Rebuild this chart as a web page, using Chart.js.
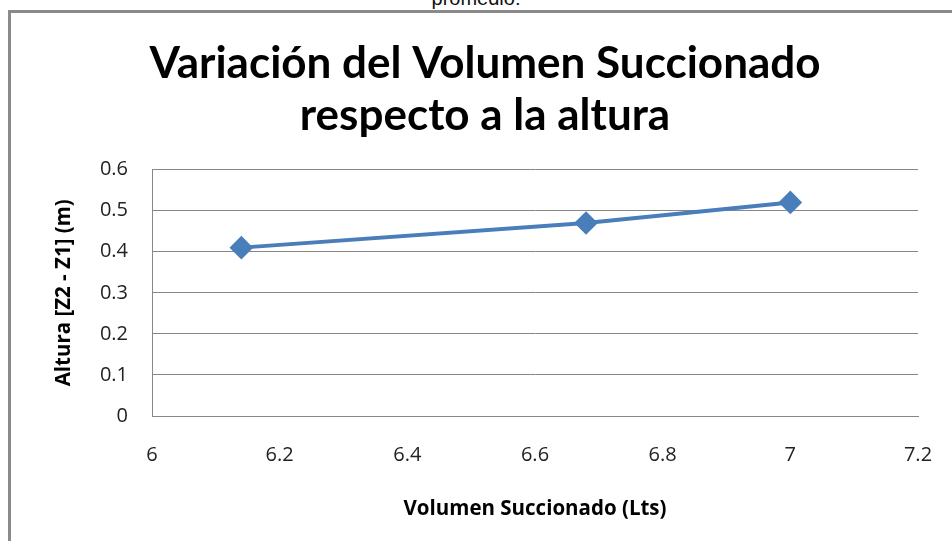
<!DOCTYPE html>
<html>
<head>
<meta charset="utf-8">
<script src="https://cdn.jsdelivr.net/npm/chart.js@4"></script>
<style>
  html, body { margin: 0; padding: 0; background: #fff; }
  body { width: 952px; height: 541px; position: relative; overflow: hidden; }
  #encima {
    position: absolute; left: 0; width: 952px; top: -13px;
    text-align: center; font: 20px "Liberation Sans", Arial, sans-serif; color: #111;
  }
  #marco {
    position: absolute; left: 8px; top: 10px; width: 1000px; height: 600px;
    border-left: 3px solid #8a8a8a; border-top: 3px solid #8a8a8a;
  }
  #grafico { position: absolute; left: 0; top: 0; }
</style>
</head>
<body>
<div id="encima">promedio:</div>
<div id="marco"></div>
<canvas id="grafico" width="952" height="541"></canvas>

<script>
// datos: volumen succionado (Lts) vs altura Z2 - Z1 (m)
const volumen = [6.14, 6.68, 7.0];
const altura = [0.41, 0.47, 0.52];

const titulo = ["Variación del Volumen Succionado", "respecto a la altura"];
const tituloX = "Volumen Succionado (Lts)";
const tituloY = "Altura [Z2 - Z1] (m)";

const azul = "#4a7ebb";
const gris = "#878787";

const puntos = volumen.map((v, i) => ({ x: v, y: altura[i] }));

const fuenteEje = { family: "Open Sans", size: 20.5, weight: "bold" };
const fuenteTicks = { family: "Open Sans", size: 20 };

new Chart(document.getElementById("grafico"), {
  type: "line",
  data: {
    datasets: [{
      data: puntos,
      borderColor: azul,
      backgroundColor: azul,
      borderWidth: 4,
      pointStyle: "rectRot",
      pointRadius: 9,
      pointHoverRadius: 9,
      tension: 0
    }]
  },
  options: {
    responsive: false,
    animation: false,
    layout: { padding: { left: 52, right: 34, top: 0, bottom: 0 } },
    plugins: {
      legend: { display: false },
      tooltip: { enabled: false },
      title: {
        display: true,
        text: titulo,
        color: "#000",
        font: { family: "Lato", size: 44, weight: "bold", lineHeight: 1.2 },
        padding: { top: 37, bottom: 27 }
      }
    },
    scales: {
      x: {
        type: "linear",
        min: 6,
        max: 7.2,
        // alto fijo y sin margen extra por la última etiqueta
        afterFit: s => { s.height = 125; s.paddingLeft = 0; s.paddingRight = 0; },
        ticks: {
          stepSize: 0.2,
          padding: 27,
          color: "#222",
          font: fuenteTicks,
          callback: v => String(Number(v.toFixed(1)))
        },
        grid: { drawOnChartArea: false, drawTicks: false },
        border: { display: true, color: gris, width: 1 },
        title: {
          display: true,
          text: tituloX,
          color: "#000",
          font: fuenteEje,
          padding: { top: 0, bottom: 20 }
        }
      },
      y: {
        min: 0,
        max: 0.6,
        afterFit: s => { s.width = 100; },
        ticks: {
          stepSize: 0.1,
          padding: 24,
          color: "#222",
          font: fuenteTicks,
          callback: v => String(Number(v.toFixed(1)))
        },
        grid: { color: gris, lineWidth: 1, drawTicks: false },
        border: { display: true, color: gris, width: 1 },
        title: {
          display: true,
          text: tituloY,
          color: "#000",
          font: fuenteEje,
          padding: { top: 0, bottom: 0 }
        }
      }
    }
  }
});
</script>
</body>
</html>
